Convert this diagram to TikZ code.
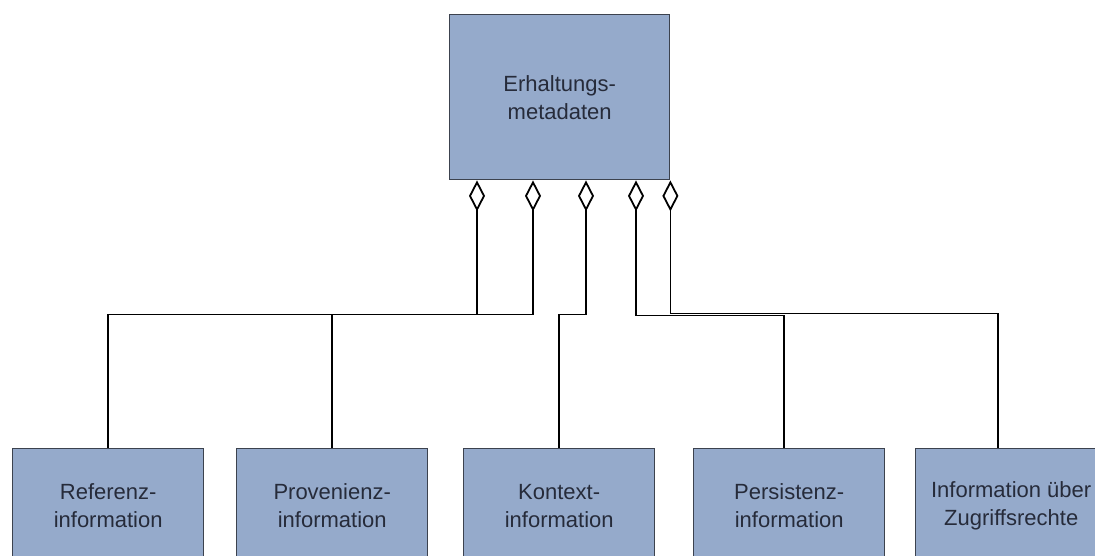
\documentclass[tikz,border=0pt]{standalone}
\usepackage{fontspec}
\setmainfont{Liberation Sans}
\usetikzlibrary{arrows.meta}
\definecolor{boxfill}{RGB}{149,170,203}
\definecolor{boxline}{RGB}{60,66,78}
\definecolor{boxtext}{RGB}{38,43,58}
\tikzset{
  classbox/.style={draw=boxline, line width=1.4pt, fill=boxfill, text=boxtext,
    align=center, inner sep=0pt, font=\fontsize{22}{28}\selectfont},
  partbox/.style={classbox, minimum width=191pt, minimum height=114pt, anchor=north west},
  agg/.style={draw=black, line width=1.8pt,
    {Diamond[open, length=31pt, width=16pt, line width=1.8pt]}-}
}
\begin{document}
\begin{tikzpicture}[x=1pt, y=-1pt]
  \useasboundingbox (0,0) rectangle (1095,555);
  \clip (0,0) rectangle (1095,555);

  % whole: preservation metadata
  \node[classbox, minimum width=220pt, minimum height=165pt, anchor=north west]
    (meta) at (449,14) {Erhaltungs-\\metadaten};

  % parts
  \node[partbox] (ref)  at (12,448)  {Referenz-\\information};
  \node[partbox] (prov) at (236,448) {Provenienz-\\information};
  \node[partbox] (kont) at (463,448) {Kontext-\\information};
  \node[partbox] (pers) at (693,448) {Persistenz-\\information};
  \node[partbox] (zug)  at (915,448) {Information über\\Zugriffsrechte};

  % aggregation connectors
  \draw[agg] ([xshift=28pt]meta.south west)  -- ++(0,134) -| (ref.north);
  \draw[agg] ([xshift=84pt]meta.south west)  -- ++(0,134) -| (prov.north);
  \draw[agg] ([xshift=137pt]meta.south west) -- ++(0,134) -| (kont.north);
  \draw[agg] ([xshift=187pt]meta.south west) -- ++(0,135) -| ([xshift=-5pt]pers.north);
  \draw[agg] (meta.south east)               -- ++(0,133) -| ([xshift=-13pt]zug.north);
\end{tikzpicture}
\end{document}
